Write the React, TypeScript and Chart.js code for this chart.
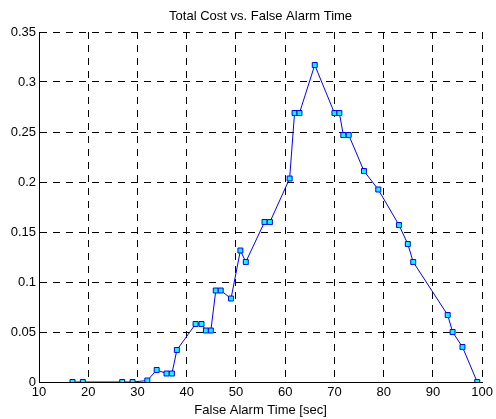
import React, { useEffect, useRef } from "react";
import { Chart, registerables } from "chart.js";

Chart.register(...registerables);

const titleText = "Total Cost vs. False Alarm Time";
const xAxisTitle = "False Alarm Time [sec]";

const falseAlarmTimes = [
  16.8, 18.9, 26.9, 29.0, 32.0, 33.9, 35.9, 37.0, 38.0, 41.8, 43.0, 43.9, 44.9,
  45.9, 46.9, 49.0, 50.9, 52.0, 55.8, 56.9, 60.9, 61.9, 62.9, 66.0, 70.0, 71.0,
  71.8, 72.9, 76.0, 78.9, 83.1, 84.9, 86.0, 93.0, 94.0, 96.0, 99.0,
];
const totalCosts = [
  0, 0, 0, 0, 0.0015, 0.012, 0.0085, 0.0085, 0.032, 0.058, 0.058, 0.0515, 0.0515,
  0.0915, 0.0915, 0.0835, 0.1315, 0.12, 0.16, 0.16, 0.2035, 0.269, 0.269, 0.317,
  0.269, 0.269, 0.247, 0.247, 0.211, 0.1925, 0.157, 0.138, 0.12, 0.067, 0.05,
  0.035, 0,
];

const xMin = 10;
const xMax = 100;
const xStep = 10;
const yMin = 0;
const yMax = 0.35;
const yStep = 0.05;

const FONT = "'Liberation Sans', Arial, Helvetica, sans-serif";

export default function App() {
  const canvasRef = useRef<HTMLCanvasElement | null>(null);

  useEffect(() => {
    const canvas = canvasRef.current;
    if (!canvas) return;
    const data = falseAlarmTimes.map((x, i) => ({ x, y: totalCosts[i] }));
    const chart = new Chart(canvas, {
      type: "line",
      data: {
        datasets: [
          {
            data,
            borderColor: "#0000ff",
            borderWidth: 1,
            backgroundColor: "#00ffff",
            pointStyle: "rect",
            pointRadius: 3.5,
            pointBorderWidth: 1,
            pointBorderColor: "#0000ff",
            pointBackgroundColor: "#00ffff",
            tension: 0,
            fill: false,
          },
        ],
      },
      options: {
        responsive: false,
        animation: false,
        layout: { padding: { left: 0, right: 11, top: 0, bottom: 0 } },
        plugins: {
          legend: { display: false },
          tooltip: { enabled: false },
          title: {
            display: true,
            text: titleText,
            fullSize: false,
            color: "#000",
            font: { family: FONT, size: 13, weight: "normal", lineHeight: 1 },
            padding: { top: 10, bottom: 9 },
          },
        },
        scales: {
          x: {
            type: "linear",
            min: xMin,
            max: xMax,
            ticks: {
              stepSize: xStep,
              color: "#000",
              font: { family: FONT, size: 13 },
              padding: 3,
              maxRotation: 0,
            },
            grid: {
              color: "#000",
              lineWidth: 1,
              drawTicks: false,
            },
            border: { display: true, color: "#000", width: 1, dash: [7, 6] },
            title: {
              display: true,
              text: xAxisTitle,
              color: "#000",
              font: { family: FONT, size: 13, lineHeight: 1.2 },
              padding: { top: 0, bottom: 1 },
            },
            afterFit: (scale: any) => {
              scale.height = 37;
            },
          },
          y: {
            type: "linear",
            min: yMin,
            max: yMax,
            ticks: {
              stepSize: yStep,
              color: "#000",
              font: { family: FONT, size: 13 },
              padding: 3,
              callback: (v: any) => String(Number(Number(v).toFixed(2))),
            },
            grid: {
              color: "#000",
              lineWidth: 1,
              drawTicks: false,
            },
            border: { display: true, color: "#000", width: 1, dash: [7, 6] },
            afterFit: (scale: any) => {
              scale.width = 39;
            },
          },
        },
      },
    });
    return () => chart.destroy();
  }, []);

  return (
    <div style={{ position: "fixed", left: 0, top: 0, width: 496, height: 419, background: "#fff" }}>
      <canvas ref={canvasRef} width={496} height={419} style={{ display: "block" }} />
    </div>
  );
}
